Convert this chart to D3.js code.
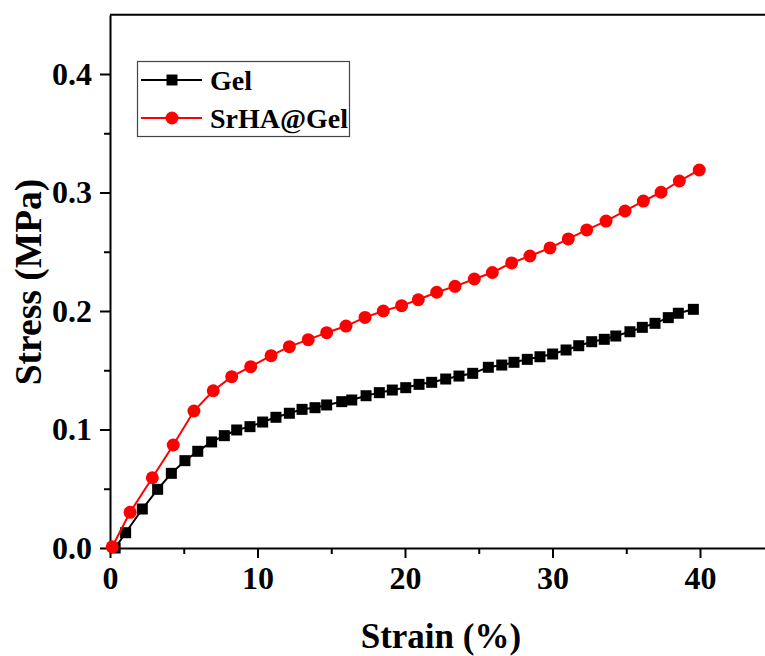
<!DOCTYPE html>
<html lang="en">
<head>
	<title>Stress-strain curves</title>
	<script src="https://d3js.org/d3.v7.min.js" charset="utf-8"></script>
	<style>
		body { margin: 0; background: #fff; }
		text { font-family: 'Liberation Serif', 'Times New Roman', serif; font-weight: bold; }
	</style>
</head>
<body>
	<div id="chart"></div>
	<script>
	// data: strain (%) and stress (MPa)
	var gelStrain = [0.35, 1.06, 2.19, 3.23, 4.16, 5.08, 5.95, 6.89, 7.75, 8.59, 9.49, 10.35, 11.25, 12.16, 13.02,
		13.9, 14.69, 15.71, 16.39, 17.36, 18.26, 19.14, 20.05, 20.95, 21.81, 22.76, 23.66, 24.59, 25.65, 26.56,
		27.39, 28.29, 29.15, 30.01, 30.92, 31.78, 32.66, 33.51, 34.29, 35.25, 36.09, 36.95, 37.85, 38.53, 39.55];
	var gelStress = [0.0, 0.0129, 0.0329, 0.0495, 0.063, 0.0737, 0.0816, 0.0895, 0.0948, 0.0996, 0.1024, 0.1063, 0.1103, 0.1137, 0.117,
		0.1184, 0.1207, 0.1235, 0.1249, 0.1285, 0.1311, 0.1333, 0.1353, 0.1381, 0.1398, 0.1426, 0.1451, 0.1474, 0.1525, 0.1544,
		0.1567, 0.1592, 0.1614, 0.1637, 0.1671, 0.1707, 0.1741, 0.1761, 0.1789, 0.1825, 0.1862, 0.1896, 0.1944, 0.1981, 0.2014];

	var srStrain = [0.15, 1.36, 2.87, 4.29, 5.69, 7.0, 8.25, 9.54, 10.92, 12.16, 13.44, 14.69, 16.0, 17.29, 18.53, 19.77,
		20.9, 22.15, 23.39, 24.7, 25.92, 27.23, 28.47, 29.83, 31.07, 32.32, 33.63, 34.92, 36.16, 37.36, 38.6, 39.95];
	var srStress = [0.001, 0.0301, 0.0593, 0.0869, 0.1156, 0.1327, 0.1446, 0.153, 0.1623, 0.1699, 0.1758, 0.1817, 0.1873, 0.1946, 0.2, 0.2045,
		0.2095, 0.2158, 0.2208, 0.227, 0.2325, 0.2406, 0.2464, 0.2532, 0.2608, 0.2684, 0.2759, 0.2844, 0.2928, 0.3002, 0.3097, 0.319];

	var xTicks = [0, 10, 20, 30, 40];
	var xMinor = [5, 15, 25, 35];
	var yTicks = [0, 0.1, 0.2, 0.3, 0.4];
	var yMinor = [0.05, 0.15, 0.25, 0.35];
	var seriesNames = ["Gel", "SrHA@Gel"];
	var seriesColors = ["#000000", "#ff0000"];

	var width = 765, height = 656;

	var svg = d3.select("#chart").append("svg")
		.attr("width", width)
		.attr("height", height);

	svg.append("rect").attr("width", width).attr("height", height).attr("fill", "#fff");

	var x = d3.scaleLinear().domain([0, 45]).range([110, 773.75]);
	var y = d3.scaleLinear().domain([0, 0.45]).range([548, 14.75]);

	// minor ticks first, then major axes on top
	svg.append("g")
		.attr("transform", "translate(0," + y(0) + ")")
		.call(d3.axisBottom(x).tickValues(xMinor).tickSize(6).tickFormat(""))
		.call(function(g) { g.select(".domain").remove(); })
		.selectAll("line").attr("stroke-width", 2);

	svg.append("g")
		.attr("transform", "translate(" + x(0) + ",0)")
		.call(d3.axisLeft(y).tickValues(yMinor).tickSize(6).tickFormat(""))
		.call(function(g) { g.select(".domain").remove(); })
		.selectAll("line").attr("stroke-width", 2);

	var xAxis = svg.append("g")
		.attr("transform", "translate(0," + y(0) + ")")
		.call(d3.axisBottom(x).tickValues(xTicks).tickSize(10).tickSizeOuter(0).tickPadding(8));

	var yAxis = svg.append("g")
		.attr("transform", "translate(" + x(0) + ",0)")
		.call(d3.axisLeft(y).tickValues(yTicks).tickFormat(d3.format(".1f")).tickSize(10).tickSizeOuter(0).tickPadding(8));

	[xAxis, yAxis].forEach(function(a) {
		a.select(".domain").attr("stroke-width", 2);
		a.selectAll(".tick line").attr("stroke-width", 2);
		a.selectAll(".tick text")
			.attr("font-family", "'Liberation Serif', serif")
			.attr("font-weight", "bold")
			.attr("font-size", 32)
			.attr("fill", "#000");
	});

	// top frame line
	svg.append("line")
		.attr("x1", x(0)).attr("x2", x(45))
		.attr("y1", y(0.45)).attr("y2", y(0.45))
		.attr("stroke", "#000").attr("stroke-width", 2);
	svg.append("line")
		.attr("x1", x(45)).attr("x2", x(45))
		.attr("y1", y(0.45)).attr("y2", y(0))
		.attr("stroke", "#000").attr("stroke-width", 2);

	// axis titles
	svg.append("text")
		.attr("x", x(22.5) - 1)
		.attr("y", 648)
		.attr("text-anchor", "middle")
		.attr("font-size", 35)
		.text("Strain (%)");

	svg.append("text")
		.attr("transform", "translate(41," + 282 + ") rotate(-90)")
		.attr("text-anchor", "middle")
		.attr("font-size", 37.5)
		.text("Stress (MPa)");

	// series
	var series = [
		{ name: seriesNames[0], color: seriesColors[0], data: gelStrain.map(function(d, i) { return [d, gelStress[i]]; }), shape: "square" },
		{ name: seriesNames[1], color: seriesColors[1], data: srStrain.map(function(d, i) { return [d, srStress[i]]; }), shape: "circle" }
	];

	var line = d3.line()
		.x(function(d) { return x(d[0]); })
		.y(function(d) { return y(d[1]); });

	series.forEach(function(s) {
		svg.append("path")
			.datum(s.data)
			.attr("fill", "none")
			.attr("stroke", s.color)
			.attr("stroke-width", 2)
			.attr("d", line);

		if (s.shape === "square") {
			svg.selectAll(null)
				.data(s.data)
				.enter()
				.append("rect")
				.attr("x", function(d) { return x(d[0]) - 5.5; })
				.attr("y", function(d) { return y(d[1]) - 5.5; })
				.attr("width", 11)
				.attr("height", 11)
				.attr("fill", s.color);
		} else {
			svg.selectAll(null)
				.data(s.data)
				.enter()
				.append("circle")
				.attr("cx", function(d) { return x(d[0]); })
				.attr("cy", function(d) { return y(d[1]); })
				.attr("r", 6.5)
				.attr("fill", s.color);
		}
	});

	// legend
	var legend = svg.append("g");
	legend.append("rect")
		.attr("x", 137.5).attr("y", 61.5)
		.attr("width", 212).attr("height", 75)
		.attr("fill", "#fff")
		.attr("stroke", "#444")
		.attr("stroke-width", 1.2);

	series.forEach(function(s, i) {
		var ly = 80 + i * 38;
		legend.append("line")
			.attr("x1", 141).attr("x2", 202)
			.attr("y1", ly).attr("y2", ly)
			.attr("stroke", s.color).attr("stroke-width", 2);
		if (s.shape === "square") {
			legend.append("rect")
				.attr("x", 172 - 5.5).attr("y", ly - 5.5)
				.attr("width", 11).attr("height", 11)
				.attr("fill", s.color);
		} else {
			legend.append("circle")
				.attr("cx", 172).attr("cy", ly)
				.attr("r", 6.5)
				.attr("fill", s.color);
		}
		legend.append("text")
			.attr("x", 210)
			.attr("y", ly + 10)
			.attr("font-size", 28)
			.text(s.name);
	});
	</script>
</body>
</html>
